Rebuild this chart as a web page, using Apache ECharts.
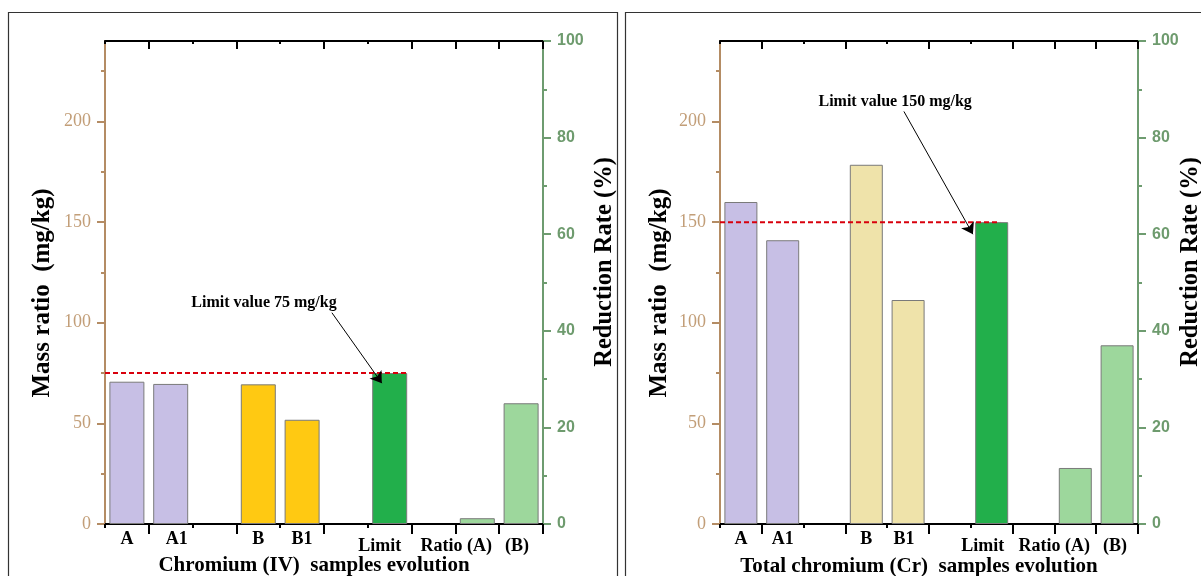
<!DOCTYPE html>
<html>
<head>
<meta charset="utf-8">
<script src="https://cdn.jsdelivr.net/npm/echarts@6/dist/echarts.min.js"></script>
<style>
  html, body { margin: 0; padding: 0; background: #ffffff; }
  #chart { width: 1201px; height: 576px; }
</style>
</head>
<body>
<div id="chart"></div>
<script>
// ---- data ----
const categories = ['A', 'A1', '', 'B', 'B1', '', 'Limit', '', 'Ratio (A)', '(B)'];

// Chromium (VI) panel, mass ratio in mg/kg and reduction rate in %
const massIV  = [70.7, 69.6, null, 69.4, 51.8, null, 75, null, null, null];
const ratioIV = [null, null, null, null, null, null, null, null, 1.2, 25.0];
const limitIV = 75;

// Total chromium panel
const massTotal  = [160, 141, null, 178.5, 111.3, null, 150, null, null, null];
const ratioTotal = [null, null, null, null, null, null, null, null, 11.6, 37.0];
const limitTotal = 150;

// axis ranges and tick labels
const massMax = 240;
const massTickValues = [0, 50, 100, 150, 200];
const massMinorValues = [25, 75, 125, 175, 225];
const rateMax = 100;
const rateStep = 20;

// ---- look ----
const SERIF = '"Liberation Serif", "Times New Roman", serif';
const SANS = '"Liberation Sans", Arial, sans-serif';
const TAN = '#B48C64';
const TAN_TEXT = '#C29E78';
const GREEN_AXIS = '#6E9C70';
const GREEN_TEXT = '#6E9B6E';

const LAVENDER = '#C7BFE5';
const LIMIT_GREEN = '#22AF4B';
const RATIO_GREEN = '#9DD79C';

// tick layout on the category axes: long ticks on these boundaries, short ones elsewhere
const longTickIdx = [1, 3, 5, 7, 8, 9];
const isLong = (i) => longTickIdx.indexOf(i) >= 0;

const chart = echarts.init(document.getElementById('chart'), null, { renderer: 'canvas' });

function buildPanel(p, cfg) {
  const xb = p * 5, yb = p * 3;
  const grid = { left: cfg.left, width: cfg.width, top: 41, height: 483, containLabel: false };

  const catData = categories.map(c => {
    const nudge = cfg.labelNudge[c];
    return nudge ? { value: c, textStyle: { padding: nudge } } : c;
  });

  const colorOf = (c) => {
    if (c === 'A' || c === 'A1') return LAVENDER;
    if (c === 'B' || c === 'B1') return cfg.bColor;
    if (c === 'Limit') return LIMIT_GREEN;
    return RATIO_GREEN;
  };

  const blackLine = { lineStyle: { color: '#000', width: 2 }, onZero: false };
  const xAxes = [
    { // bottom axis with labels and long ticks
      type: 'category', gridIndex: p, position: 'bottom', data: catData,
      axisLine: blackLine,
      axisTick: { show: true, interval: (i) => isLong(i), length: 10, lineStyle: { color: '#000', width: 2 } },
      axisLabel: { interval: 0, margin: 6, color: '#000', fontFamily: SERIF, fontWeight: 'bold', fontSize: 18 },
      splitLine: { show: false }
    },
    { // bottom short ticks
      type: 'category', gridIndex: p, position: 'bottom', data: categories,
      axisLine: { show: false, onZero: false },
      axisTick: { show: true, interval: (i) => !isLong(i), length: 4, lineStyle: { color: '#000', width: 2 } },
      axisLabel: { show: false }, splitLine: { show: false }
    },
    { // top frame line with long inward ticks
      type: 'category', gridIndex: p, position: 'top', data: categories,
      axisLine: blackLine,
      axisTick: { show: true, inside: true, interval: (i) => isLong(i), length: 8, lineStyle: { color: '#000', width: 2 } },
      axisLabel: { show: false }, splitLine: { show: false }
    },
    { // top short ticks
      type: 'category', gridIndex: p, position: 'top', data: categories,
      axisLine: { show: false, onZero: false },
      axisTick: { show: true, inside: true, interval: (i) => !isLong(i), length: 3, lineStyle: { color: '#000', width: 2 } },
      axisLabel: { show: false }, splitLine: { show: false }
    },
    { // continuous overlay axis for the limit line and the note arrow
      type: 'value', gridIndex: p, min: 0, max: categories.length, show: false
    }
  ];

  const yAxes = [
    {
      type: 'value', gridIndex: p, position: 'left', min: 0, max: massMax,
      axisLine: { show: true, onZero: false, lineStyle: { color: TAN, width: 2 } },
      axisTick: { show: true, customValues: massTickValues, length: 8, lineStyle: { color: TAN, width: 2 } },
      axisLabel: { customValues: massTickValues, margin: 14, color: TAN_TEXT, fontFamily: SERIF, fontSize: 18 },
      splitLine: { show: false }
    },
    {
      type: 'value', gridIndex: p, position: 'left', min: 0, max: massMax,
      axisLine: { show: false, onZero: false },
      axisTick: { show: true, customValues: massMinorValues, length: 4, lineStyle: { color: TAN, width: 2 } },
      axisLabel: { show: false }, splitLine: { show: false }
    },
    {
      type: 'value', gridIndex: p, position: 'right', min: 0, max: rateMax, interval: rateStep,
      axisLine: { show: true, onZero: false, lineStyle: { color: GREEN_AXIS, width: 2 } },
      axisTick: { show: true, length: 8, lineStyle: { color: GREEN_AXIS, width: 2 } },
      minorTick: { show: true, splitNumber: 2, length: 4, lineStyle: { color: GREEN_AXIS, width: 2 } },
      axisLabel: { margin: 14, color: GREEN_TEXT, fontFamily: SANS, fontWeight: 'bold', fontSize: 16 },
      splitLine: { show: false }, minorSplitLine: { show: false }
    }
  ];

  const barStyle = { borderColor: '#7a7a7a', borderWidth: 1 };
  const limitIdx = categories.indexOf('Limit');
  const limitEnd = limitIdx + 0.5 + cfg.barUnitHalf;

  const series = [
    {
      type: 'bar', name: 'mass', xAxisIndex: xb, yAxisIndex: yb,
      barWidth: cfg.barWidth, barGap: '-100%',
      data: cfg.mass.map((v, i) => v == null ? null : { value: v, itemStyle: { color: colorOf(categories[i]), ...barStyle } })
    },
    {
      type: 'bar', name: 'ratio', xAxisIndex: xb, yAxisIndex: yb + 2,
      barWidth: cfg.barWidth, barGap: '-100%',
      data: cfg.ratio.map((v, i) => v == null ? null : { value: v, itemStyle: { color: colorOf(categories[i]), ...barStyle } })
    },
    {
      type: 'line', name: 'limit', xAxisIndex: xb + 4, yAxisIndex: yb,
      symbol: 'none', silent: true, z: 3,
      lineStyle: { color: '#D8000C', width: 2, type: [5, 3] },
      data: [[0, cfg.limit], [limitEnd, cfg.limit]],
      markLine: {
        silent: true, symbol: ['none', 'arrow'], symbolSize: 11,
        itemStyle: { color: '#000' },
        lineStyle: { color: '#000', width: 1, type: 'solid' },
        label: { show: false },
        emphasis: { disabled: true },
        data: [[{ coord: cfg.note.from }, { coord: cfg.note.to }]]
      },
      markPoint: {
        silent: true, symbol: 'circle', symbolSize: 0,
        label: { show: true, position: 'inside', color: '#000', fontFamily: SERIF, fontWeight: 'bold', fontSize: 16, formatter: cfg.note.text },
        data: [{ coord: cfg.note.at }]
      }
    }
  ];

  return { grid, xAxes, yAxes, series };
}

const panels = [
  buildPanel(0, {
    left: 105, width: 438, barWidth: 35, barUnitHalf: 0.4, bColor: '#FFC912',
    mass: massIV, ratio: ratioIV, limit: limitIV,
    labelNudge: { 'A1': [0, 0, 0, 12], 'Limit': [7, 20, 0, 0], 'Ratio (A)': [7, 42, 0, 0], '(B)': [7, 8, 0, 0] },
    note: { text: 'Limit value 75 mg/kg', at: [3.63, 110], from: [5.18, 105], to: [6.32, 70] }
  }),
  buildPanel(1, {
    left: 720, width: 418, barWidth: 33, barUnitHalf: 0.2, bColor: '#EFE3AA',
    mass: massTotal, ratio: ratioTotal, limit: limitTotal,
    labelNudge: { 'B1': [0, 8, 0, 0], 'Limit': [7, 18, 0, 0], 'Ratio (A)': [7, 42, 0, 0], '(B)': [7, 4, 0, 0] },
    note: { text: 'Limit value 150 mg/kg', at: [4.19, 210], from: [4.4, 205], to: [6.05, 144] }
  })
];

function vText(x, y, text, size) {
  return {
    type: 'text', x: x, y: y, rotation: Math.PI / 2, silent: true,
    style: { text: text, fill: '#000', font: 'bold ' + size + 'px ' + SERIF, align: 'center', verticalAlign: 'middle' }
  };
}
function hText(x, y, text, size) {
  return {
    type: 'text', x: x, y: y, silent: true,
    style: { text: text, fill: '#000', font: 'bold ' + size + 'px ' + SERIF, align: 'center', verticalAlign: 'middle' }
  };
}

const graphic = [
  { type: 'rect', silent: true, z: -10, shape: { x: 8.5, y: 12.5, width: 609, height: 580 }, style: { fill: 'none', stroke: '#333', lineWidth: 1.2 } },
  { type: 'rect', silent: true, z: -10, shape: { x: 625.5, y: 12.5, width: 600, height: 580 }, style: { fill: 'none', stroke: '#333', lineWidth: 1.2 } },
  vText(43, 293, 'Mass ratio  (mg/kg)', 25),
  vText(605, 262, 'Reduction Rate (%)', 24.5),
  hText(314, 566, 'Chromium (IV)  samples evolution', 21),
  vText(660, 293, 'Mass ratio  (mg/kg)', 25),
  vText(1191, 262, 'Reduction Rate (%)', 24.5),
  hText(919, 567, 'Total chromium (Cr)  samples evolution', 21)
];

chart.setOption({
  animation: false,
  backgroundColor: '#ffffff',
  grid: panels.map(p => p.grid),
  xAxis: panels.flatMap(p => p.xAxes),
  yAxis: panels.flatMap(p => p.yAxes),
  series: panels.flatMap(p => p.series),
  graphic: graphic
});
</script>
</body>
</html>
